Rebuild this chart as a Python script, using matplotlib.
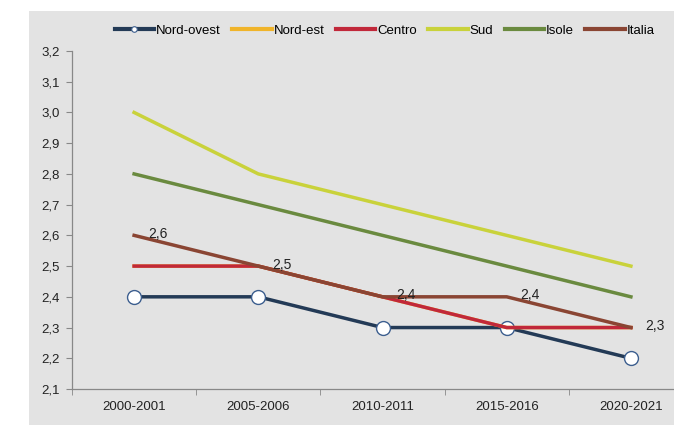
import matplotlib.pyplot as plt
from matplotlib.patches import Rectangle
from matplotlib.lines import Line2D

plt.rcParams['font.family'] = ['Liberation Sans', 'DejaVu Sans']

# dati
periodi = ["2000-2001", "2005-2006", "2010-2011", "2015-2016", "2020-2021"]
nord_ovest = [2.4, 2.4, 2.3, 2.3, 2.2]
nord_est = [2.5, 2.5, 2.4, 2.3, 2.3]
centro = [2.5, 2.5, 2.4, 2.3, 2.3]
sud = [3.0, 2.8, 2.7, 2.6, 2.5]
isole = [2.8, 2.7, 2.6, 2.5, 2.4]
italia = [2.6, 2.5, 2.4, 2.4, 2.3]
etichette_italia = ["2,6", "2,5", "2,4", "2,4", "2,3"]

col_no = "#233a56"
col_ne = "#f0b42a"
col_ce = "#c1283a"
col_sud = "#c9d23b"
col_is = "#6a8a3f"
col_it = "#8a4533"
grigio = "#e3e3e3"

fig = plt.figure(figsize=(6.74, 4.25), dpi=100, facecolor="white")
fig.patches.append(Rectangle((29 / 674, 0), 1, 1 - 11 / 425, transform=fig.transFigure,
                             facecolor=grigio, edgecolor="none", zorder=-10))

ax = fig.add_axes([72 / 674, 1 - 389 / 425, 621 / 674, (389 - 51) / 425])
ax.set_facecolor("none")

x = list(range(len(periodi)))
lw = 2.5
ax.plot(x, nord_ovest, color=col_no, lw=lw, marker="o", markersize=10,
        markerfacecolor="white", markeredgecolor="#3d5f8f", markeredgewidth=1.0)
ax.plot(x, nord_est, color=col_ne, lw=lw)
ax.plot(x, centro, color=col_ce, lw=lw)
ax.plot(x, sud, color=col_sud, lw=lw)
ax.plot(x, isole, color=col_is, lw=lw)
ax.plot(x, italia, color=col_it, lw=lw)

for xi, yi, t in zip(x, italia, etichette_italia):
    ax.annotate(t, (xi, yi), xytext=(10, 1), textcoords="offset points",
                ha="left", va="center", fontsize=10, color="#222222")

ax.set_xlim(-0.5, 4.5)
ax.set_ylim(2.1, 3.2)
ax.set_yticks([2.1 + 0.1 * i for i in range(12)])
ax.set_yticklabels([f"{2.1 + 0.1 * i:.1f}".replace(".", ",") for i in range(12)])
ax.set_xticks(x)
ax.set_xticklabels(periodi)
ax.set_xticks([i - 0.5 for i in range(6)], minor=True)
ax.tick_params(axis="x", which="major", length=0, pad=9, labelsize=9.5, labelcolor="#222222")
ax.tick_params(axis="x", which="minor", length=4, color="#888888")
ax.tick_params(axis="y", length=4, color="#888888", labelsize=9.5, labelcolor="#222222", pad=5)
for s in ["top", "right"]:
    ax.spines[s].set_visible(False)
for s in ["left", "bottom"]:
    ax.spines[s].set_color("#888888")
    ax.spines[s].set_linewidth(0.9)

handles = [
    Line2D([], [], color=col_no, lw=3, marker="o", markersize=4,
           markerfacecolor="white", markeredgecolor="#3d5f8f", markeredgewidth=0.8),
    Line2D([], [], color=col_ne, lw=3),
    Line2D([], [], color=col_ce, lw=3),
    Line2D([], [], color=col_sud, lw=3),
    Line2D([], [], color=col_is, lw=3),
    Line2D([], [], color=col_it, lw=3),
]
nomi = ["Nord-ovest", "Nord-est", "Centro", "Sud", "Isole", "Italia"]
fig.legend(handles, nomi, loc="center", bbox_to_anchor=(0.571, 1 - 31 / 425), ncol=6,
           frameon=False, fontsize=9.5, handlelength=3.0, handletextpad=0.15,
           columnspacing=0.85, borderpad=0)

fig.savefig("out.png", dpi=100, facecolor=fig.get_facecolor())
